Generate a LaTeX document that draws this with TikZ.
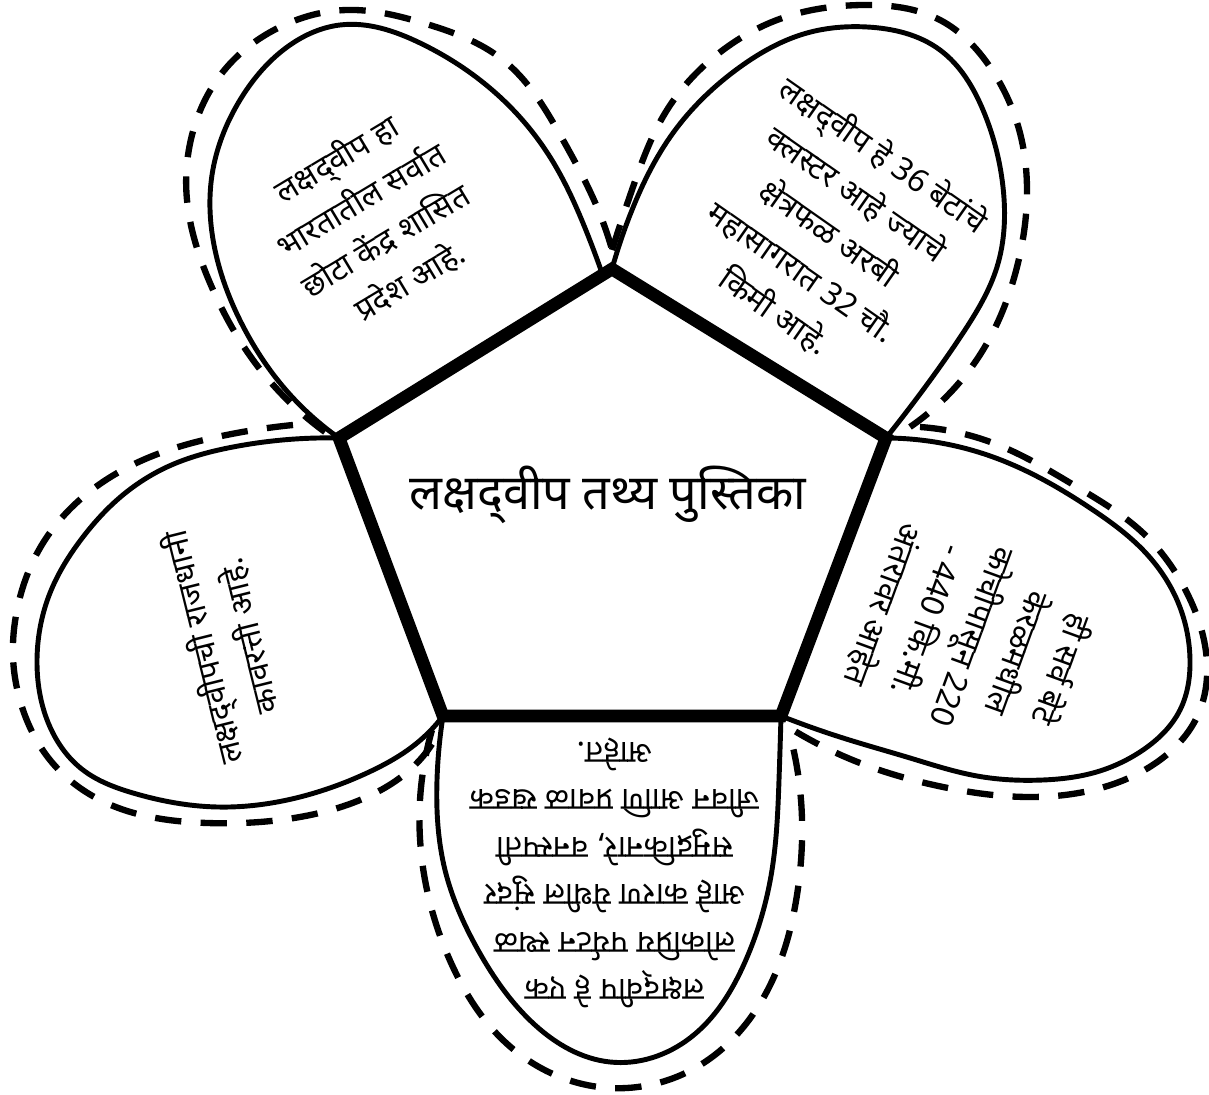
\documentclass[tikz,border=0pt]{standalone}
\usepackage{fontspec}
\newfontfamily\deva[Script=Devanagari]{Noto Sans}
\usetikzlibrary{hobby}

\begin{document}
\begin{tikzpicture}[x=0.01cm, y=-0.01cm,
  petal/.style={line width=1.4pt, use Hobby shortcut},
  petalrim/.style={line width=1.8pt, dash pattern=on 7.5pt off 5.5pt, use Hobby shortcut},
  facts/.style={align=center, font=\deva\fontsize{9}{13.5}\selectfont},]
\useasboundingbox (0,0) rectangle (1209,1095);
\coordinate (vt) at (612,269);
\coordinate (vr) at (886,438);
\coordinate (vbr) at (781,716);
\coordinate (vbl) at (443,716);
\coordinate (vl) at (339,438);

\draw[petal] (vl) .. (280,383) .. (245,330) .. (215,250) .. (212,175) .. (240,100) .. (290,45) .. (340,25) .. (420,43) .. (500,97) .. (550,157) .. (585,228) .. (603,276);
\draw[petalrim] (325,432) .. (253,360) .. (210,283) .. (187,200) .. (192,135) .. (227,67) .. (280,27) .. (347,10) .. (423,23) .. (503,60) .. (563,140) .. (597,207) .. (613,253);

\draw[petal] (vt) .. (632,210) .. (673,133) .. (740,67) .. (807,33) .. (867,27) .. (940,50) .. (983,110) .. (1003,187) .. (997,267) .. (963,333) .. (923,390) .. (vr);
\draw[petalrim] (612,250) .. (633,187) .. (667,110) .. (723,50) .. (777,20) .. (863,5) .. (940,20) .. (990,67) .. (1020,133) .. (1027,193) .. (1017,267) .. (983,350) .. (943,400) .. (910,427);

\draw[petal] (vl) .. (233,447) .. (167,467) .. (117,500) .. (83,537) .. (50,593) .. (37,663) .. (50,727) .. (83,770) .. (133,793) .. (217,807) .. (300,797) .. (367,773) .. (417,743) .. (vbl);
\draw[petalrim] (293,425) .. (217,437) .. (150,457) .. (83,497) .. (43,543) .. (17,610) .. (13,657) .. (23,710) .. (50,760) .. (100,800) .. (207,823) .. (300,817) .. (367,797) .. (417,763) .. (440,730);

\draw[petal] (vr) .. (993,457) .. (1093,510) .. (1143,550) .. (1177,600) .. (1190,660) .. (1180,710) .. (1143,750) .. (1093,773) .. (1043,780) .. (977,776) .. (910,758) .. (843,738) .. (vbr);
\draw[petalrim] (920,427) .. (993,443) .. (1077,487) .. (1143,533) .. (1187,593) .. (1207,663) .. (1197,717) .. (1160,760) .. (1093,790) .. (1027,797) .. (943,787) .. (860,763) .. (793,730);

\draw[petal] (vbl) .. (437,780) .. (445,870) .. (478,950) .. (535,1025) .. (610,1062) .. (690,1038) .. (745,962) .. (772,870) .. (779,780) .. (vbr);
\draw[petalrim] (432,730) .. (420,800) .. (425,880) .. (452,965) .. (505,1042) .. (610,1088) .. (705,1062) .. (765,995) .. (797,895) .. (801,800) .. (790,735);

\draw[line width=3.6pt, fill=white] (vt) -- (vr) -- (vbr) -- (vbl) -- (vl) -- cycle;

\node (title) at (608,495) {\deva\fontsize{13.8}{17}\selectfont लक्षद्^^^^200cवीप तथ्य पुस्तिका};
\node[facts, rotate=31] (small) at (373,220) {लक्षद्^^^^200cवीप हा\\भारतातील सर्वात\\छोटा केंद्र शासित\\प्रदेश आहे.};
\node[facts, rotate=-35] (islands) at (829,233) {लक्षद्^^^^200cवीप हे 36 बेटांचे\\क्लस्टर आहे ज्याचे\\क्षेत्रफळ अरबी\\महासागरात 32 चौ.\\किमी आहे.};
\node[facts, rotate=-110] (kochi) at (973,637) {ही सर्व बेटे\\केरळमधील\\कोचीपासून 220\\- 440 कि.मी.\\अंतरावर आहेत};
\node[facts, rotate=180] (tourism) at (615,873) {लक्षद्^^^^200cवीप हे एक\\लोकप्रिय पर्यटन स्थळ\\आहे कारण येथील सुंदर\\समुद्रकिनारे, वनस्पती\\जीवन आणि प्रवाळ खडक\\आहेत.};
\node[facts, rotate=104] (capital) at (226,642) {लक्षद्^^^^200cवीपची राजधानी\\कावरत्ती आहे.};
\end{tikzpicture}
\end{document}
